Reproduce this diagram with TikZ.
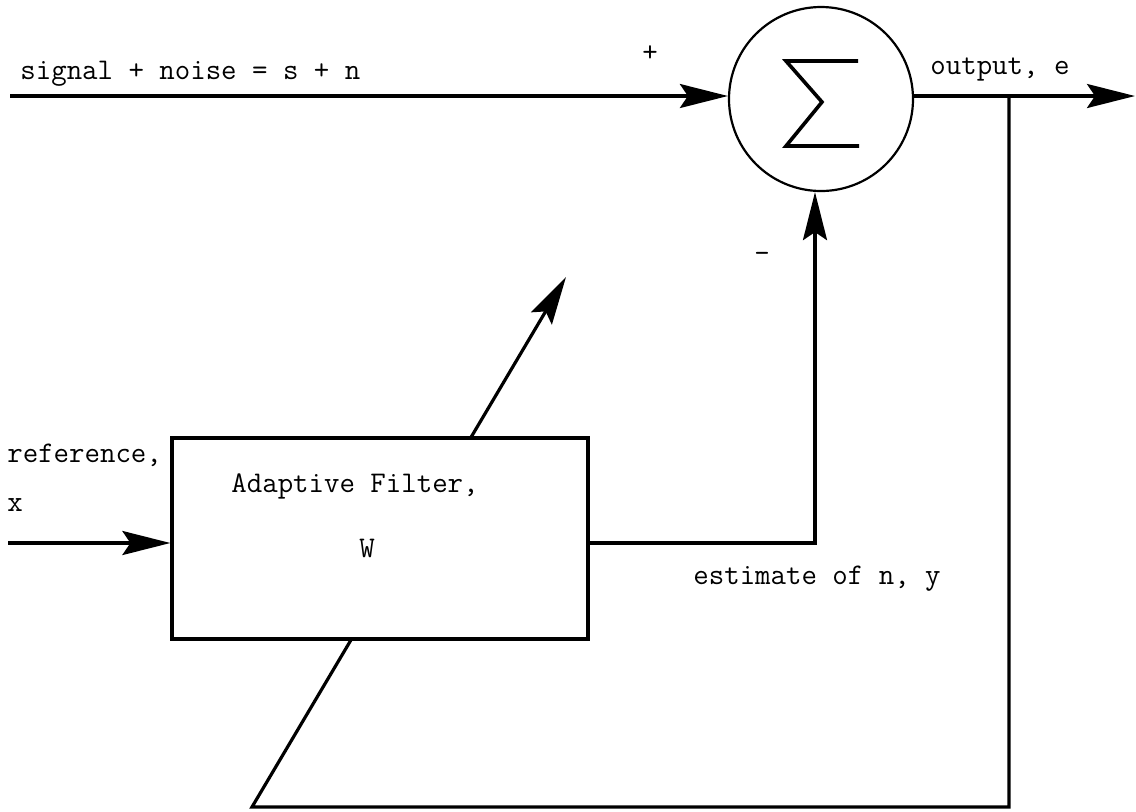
\documentclass[tikz,border=0pt]{standalone}
\usepackage{fontspec}
\usetikzlibrary{arrows.meta}
\begin{document}
\begin{tikzpicture}[x=0.5pt,y=-0.5pt,
  wire/.style={line width=1.6pt},
  arr/.style={wire,-{Stealth[length=24pt,width=12pt,inset=4pt]}},
  lbl/.style={font=\ttfamily\fontsize{15pt}{18pt}\selectfont, inner sep=0pt, anchor=mid west},
  ]
\useasboundingbox (0,0) rectangle (1136,811);

% coordinates
\coordinate (inS) at (10,96);
\coordinate (outE) at (1135,96);
\coordinate (tap) at (1009,96);
\coordinate (fbC) at (1009,807);
\coordinate (fbL) at (252,807);
\coordinate (fbTip) at (566,277);
\coordinate (inX) at (8,543);
\coordinate (yC) at (815,543);

% summing junction
\node[draw, circle, line width=1.1pt, minimum size=92pt, inner sep=0pt] (sum) at (821,99) {};
\draw[line width=1.8pt, line join=miter] (858,61) -- (786,61) -- (822,102) -- (786,146) -- (859,146);

% feedback (adaptation) path, passes behind the filter box
\draw[arr] (tap) -- (fbC) -- (fbL) -- (fbTip);

% adaptive filter box
\node[draw, wire, fill=white, minimum width=208pt, minimum height=100.5pt, inner sep=0pt] (filt) at (380,538.5) {};

% connectors
\draw[arr] (inS) -- (inS -| sum.west);
\draw[arr] (sum.east |- inS) -- (outE);
\draw[arr] (inX) -- (inX -| filt.west);
\draw[arr] (filt.east |- inX) -- (yC) -- (yC |- sum.south);

% labels
\node[lbl] (tSig) at (20,75) {signal + noise = s + n};
\node[lbl] (tPlus) at (642,57) {+};
\node[lbl] (tOut) at (930,70) {output, e};
\node[lbl] (tMinus) at (754,258) {-};
\node[lbl] (tRef) at (7,458) {reference,};
\node[lbl] (tX) at (7,507) {x};
\node[lbl] (tAF) at (231,488) {Adaptive Filter,};
\node[lbl, anchor=mid] (tW) at (367,553) {W};
\node[lbl] (tEst) at (693,580) {estimate of n, y};
\end{tikzpicture}
\end{document}
